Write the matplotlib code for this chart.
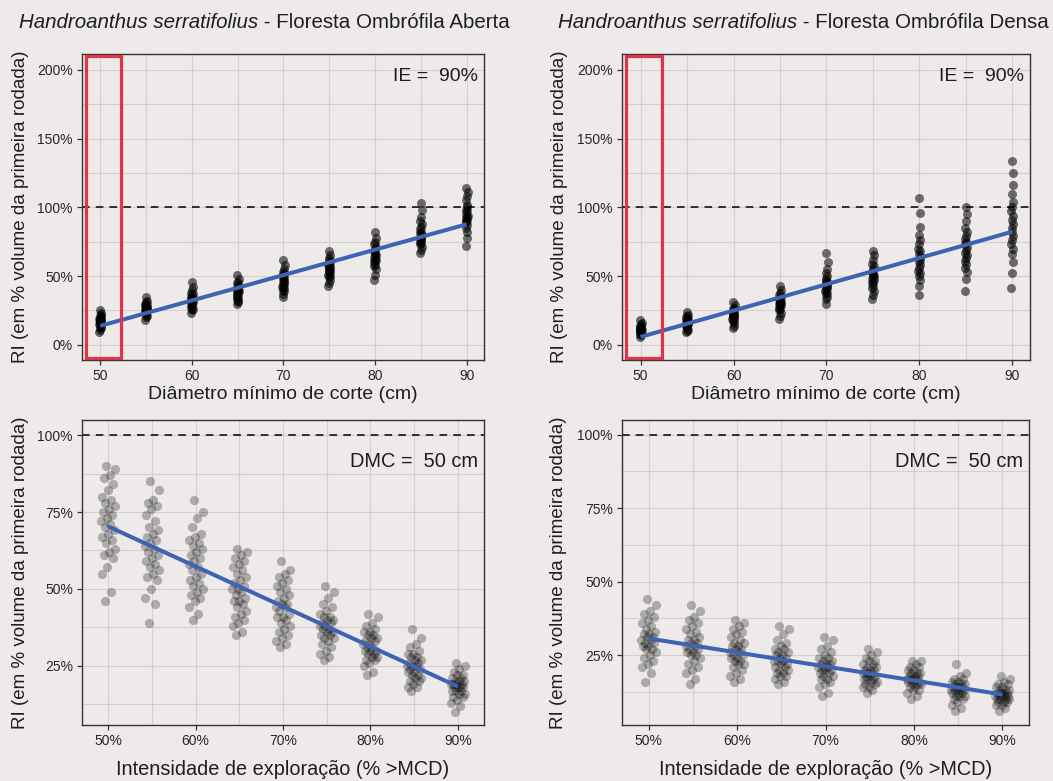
import numpy as np
import matplotlib
matplotlib.use("Agg")
import matplotlib.pyplot as plt
from matplotlib.patches import Rectangle
from matplotlib.ticker import FuncFormatter, MultipleLocator

plt.rcParams["font.family"] = ["Liberation Sans", "DejaVu Sans"]

# ---------------- data ----------------
dmc_levels = [50, 55, 60, 65, 70, 75, 80, 85, 90]      # minimum cutting diameter (cm)
ie_levels = [50, 55, 60, 65, 70, 75, 80, 85, 90]       # harvest intensity (%)

# RI (% of first-cycle volume) by DMC, IE = 90% — Floresta Ombrófila Aberta
ri_dmc_aberta = [
    [25, 23, 22, 21, 20, 19, 19, 18, 18, 17, 17, 16, 16, 15, 15, 14, 13, 12, 11, 9],
    [35, 32, 31, 30, 29, 28, 28, 27, 27, 26, 26, 25, 25, 24, 24, 23, 22, 21, 20, 18],
    [46, 42, 40, 38, 37, 36, 35, 34, 33, 33, 32, 32, 31, 30, 29, 28, 27, 26, 25, 23],
    [51, 48, 46, 45, 43, 42, 41, 40, 40, 39, 39, 38, 37, 36, 35, 34, 33, 32, 31, 30],
    [62, 58, 55, 53, 52, 51, 50, 49, 48, 47, 46, 45, 44, 43, 42, 41, 40, 39, 37, 35],
    [68, 65, 63, 62, 60, 59, 58, 57, 56, 55, 55, 54, 53, 52, 51, 50, 49, 47, 45, 43],
    [82, 78, 75, 73, 71, 70, 68, 67, 66, 65, 64, 63, 62, 61, 60, 58, 57, 55, 51, 47],
    [103, 98, 93, 90, 88, 86, 84, 82, 81, 80, 79, 78, 77, 76, 75, 74, 73, 71, 69, 67],
    [114, 111, 108, 105, 102, 100, 98, 97, 95, 94, 93, 92, 91, 90, 89, 87, 85, 82, 78, 72],
]

# RI by DMC, IE = 90% — Floresta Ombrófila Densa
ri_dmc_densa = [
    [18, 16, 15, 14, 13, 13, 12, 12, 11, 11, 11, 10, 10, 10, 9, 9, 8, 8, 7, 6],
    [24, 22, 21, 20, 19, 18, 18, 17, 17, 16, 16, 15, 15, 14, 14, 13, 12, 11, 10, 9],
    [31, 29, 27, 26, 25, 24, 23, 23, 22, 22, 21, 21, 20, 20, 19, 18, 17, 16, 14, 12],
    [43, 40, 38, 36, 35, 34, 33, 32, 31, 31, 30, 30, 29, 28, 27, 26, 25, 23, 21, 19],
    [67, 60, 55, 52, 50, 48, 47, 46, 45, 44, 43, 42, 41, 40, 39, 38, 37, 35, 33, 30],
    [68, 65, 62, 59, 57, 55, 53, 52, 51, 50, 49, 48, 47, 46, 45, 43, 41, 39, 36, 33],
    [107, 96, 86, 80, 76, 73, 70, 68, 66, 64, 62, 60, 58, 56, 54, 52, 50, 47, 43, 36],
    [100, 95, 90, 85, 82, 79, 77, 75, 73, 71, 69, 67, 65, 63, 61, 59, 56, 53, 48, 39],
    [134, 125, 116, 110, 104, 100, 97, 94, 91, 88, 85, 82, 79, 76, 73, 70, 66, 60, 52, 41],
]

# RI by IE, DMC = 50 cm — Floresta Ombrófila Aberta
ri_ie_aberta = [
    [90, 89, 87, 86, 84, 82, 80, 79, 78, 77, 76, 75, 74, 73, 72, 71, 70, 69, 68, 67, 66, 65, 63, 62, 61, 60, 57, 55, 49, 46],
    [85, 82, 79, 78, 77, 76, 74, 72, 70, 69, 68, 67, 66, 65, 64, 63, 62, 61, 60, 59, 58, 57, 56, 55, 54, 53, 50, 47, 45, 39],
    [79, 75, 73, 70, 68, 67, 66, 65, 64, 63, 62, 61, 60, 59, 58, 57, 56, 55, 54, 53, 52, 51, 50, 49, 48, 47, 46, 44, 42, 40],
    [63, 62, 61, 60, 59, 58, 57, 56, 55, 54, 53, 52, 51, 50, 50, 49, 48, 47, 46, 46, 45, 44, 43, 42, 41, 40, 39, 38, 36, 35],
    [59, 56, 55, 54, 53, 52, 51, 50, 49, 48, 47, 46, 45, 45, 44, 44, 43, 42, 41, 41, 40, 39, 38, 37, 36, 35, 34, 33, 32, 31],
    [51, 49, 47, 45, 44, 43, 42, 41, 41, 40, 40, 39, 39, 38, 38, 37, 37, 36, 36, 35, 35, 34, 34, 33, 32, 31, 30, 29, 28, 27],
    [42, 41, 39, 38, 37, 36, 36, 35, 35, 34, 34, 33, 33, 32, 32, 31, 31, 30, 30, 30, 29, 29, 28, 28, 27, 27, 26, 25, 23, 22],
    [37, 34, 32, 31, 30, 29, 29, 28, 28, 27, 27, 26, 26, 25, 25, 25, 24, 24, 23, 23, 22, 22, 21, 21, 20, 20, 19, 18, 18, 17],
    [26, 25, 24, 23, 22, 22, 21, 21, 20, 20, 20, 19, 19, 19, 19, 18, 18, 18, 18, 17, 17, 17, 16, 16, 15, 15, 14, 13, 12, 10],
]

# RI by IE, DMC = 50 cm — Floresta Ombrófila Densa
ri_ie_densa = [
    [44, 42, 40, 39, 38, 37, 36, 35, 34, 33, 32, 32, 31, 31, 30, 30, 29, 29, 28, 28, 27, 27, 26, 25, 24, 23, 22, 21, 19, 16],
    [42, 40, 38, 37, 36, 35, 34, 33, 32, 31, 30, 30, 29, 29, 28, 28, 27, 27, 26, 26, 25, 25, 24, 23, 22, 21, 20, 19, 17, 15],
    [37, 36, 35, 34, 33, 32, 31, 30, 29, 29, 28, 28, 27, 27, 26, 26, 25, 25, 24, 24, 23, 23, 22, 22, 21, 20, 19, 18, 17, 16],
    [35, 34, 32, 30, 29, 28, 27, 27, 26, 26, 25, 25, 24, 24, 23, 23, 23, 22, 22, 21, 21, 20, 20, 19, 19, 18, 18, 17, 16, 15],
    [31, 30, 28, 27, 26, 25, 24, 24, 23, 23, 22, 22, 22, 21, 21, 21, 20, 20, 20, 19, 19, 18, 18, 17, 17, 16, 15, 14, 12, 11],
    [27, 26, 25, 24, 23, 23, 22, 22, 21, 21, 20, 20, 20, 19, 19, 19, 18, 18, 18, 17, 17, 17, 16, 16, 15, 15, 14, 14, 13, 12],
    [23, 23, 22, 21, 21, 20, 20, 19, 19, 19, 18, 18, 18, 17, 17, 17, 17, 16, 16, 16, 15, 15, 15, 14, 14, 13, 13, 12, 11, 10],
    [22, 19, 18, 17, 17, 16, 16, 15, 15, 15, 14, 14, 14, 14, 13, 13, 13, 13, 12, 12, 12, 11, 11, 11, 10, 10, 9, 8, 7, 6],
    [18, 17, 16, 15, 15, 14, 14, 13, 13, 13, 12, 12, 12, 12, 11, 11, 11, 11, 11, 10, 10, 10, 10, 9, 9, 9, 8, 8, 7, 6],
]

species = "Handroanthus serratifolius"
forests = ["Floresta Ombrófila Aberta", "Floresta Ombrófila Densa"]
top_note = "IE =  90%"
bottom_note = "DMC =  50 cm"
ylabel = "RI (em % volume da primeira rodada)"
xlabel_top = "Diâmetro mínimo de corte (cm)"
xlabel_bottom = "Intensidade de exploração (% >MCD)"

# ---------------- style ----------------
BG = "#EEEAEA"
GRID = "#D5D0D0"
LINE_BLUE = "#3D63B3"
RED = "#E0344A"
TXT = "#1E1E1E"

fig = plt.figure(figsize=(10.53, 7.81), dpi=100, facecolor=BG)

W, H = 1053, 781


def add_axes(px_left, px_right, px_top, px_bottom):
    return fig.add_axes([px_left / W, 1 - px_bottom / H,
                         (px_right - px_left) / W, (px_bottom - px_top) / H])


ax_tl = add_axes(82, 484, 54, 360)
ax_tr = add_axes(622, 1030, 54, 360)
ax_bl = add_axes(82, 484, 420, 725)
ax_br = add_axes(622, 1029, 420, 725)

pct = FuncFormatter(lambda v, _: f"{v:.0f}%")


def jitter_offsets(n, half_width):
    # evenly spread horizontal offsets (golden-ratio sequence)
    k = np.arange(n)
    return ((k * 0.6180339887 + 0.37) % 1.0 * 2 - 1) * half_width


def style_axes(ax):
    ax.set_facecolor(BG)
    for sp in ax.spines.values():
        sp.set_color("#333333")
        sp.set_linewidth(1.0)
    ax.grid(True, which="both", color=GRID, linewidth=0.8, zorder=0)
    ax.set_axisbelow(True)
    ax.tick_params(which="major", direction="out", length=3.5, width=0.9,
                   color="#333333", labelsize=10, labelcolor="#262626", pad=3)
    ax.tick_params(which="minor", length=0)


def draw_panel(ax, levels, groups, half_width, alpha, size):
    xs, ys = [], []
    for lvl, vals in zip(levels, groups):
        vals = np.asarray(vals, dtype=float)
        xs.append(lvl + jitter_offsets(len(vals), half_width))
        ys.append(vals)
    xs = np.concatenate(xs)
    ys = np.concatenate(ys)
    ax.scatter(xs, ys, s=size, color="black", alpha=alpha, linewidths=0, zorder=3)
    # linear fit of RI on the grouping variable
    xg = np.concatenate([[lvl] * len(v) for lvl, v in zip(levels, groups)])
    b1, b0 = np.polyfit(xg, ys, 1)
    xl = np.array([min(levels), max(levels)])
    ax.plot(xl, b0 + b1 * xl, color=LINE_BLUE, linewidth=2.9, zorder=4,
            solid_capstyle="butt")
    ax.axhline(100, color="black", linestyle=(0, (5, 4)), linewidth=1.1, zorder=2)


# ---- top row: DMC ----
for ax, groups in [(ax_tl, ri_dmc_aberta), (ax_tr, ri_dmc_densa)]:
    style_axes(ax)
    draw_panel(ax, dmc_levels, groups, 0.12, 0.55, 42)
    ax.set_xlim(48.0, 91.9)
    ax.set_ylim(-11, 211.5)
    ax.xaxis.set_major_locator(MultipleLocator(10))
    ax.xaxis.set_minor_locator(MultipleLocator(5))
    ax.yaxis.set_major_locator(MultipleLocator(50))
    ax.yaxis.set_minor_locator(MultipleLocator(25))
    ax.yaxis.set_major_formatter(pct)
    ax.set_xlabel(xlabel_top, fontsize=14, color=TXT)
    ax.xaxis.set_label_coords(0.5, -0.085)
    ax.set_ylabel(ylabel, fontsize=13.5, color=TXT)
    ax.yaxis.set_label_coords(-0.132, 0.5)
    ax.text(0.985, 0.925, top_note, transform=ax.transAxes, ha="right",
            va="center", fontsize=14, color=TXT)
    # highlight of the 50 cm class
    ax.add_patch(Rectangle((48.45, 0.006), 3.85, 0.988,
                           transform=ax.get_xaxis_transform(), fill=False,
                           edgecolor=RED, linewidth=2.3, zorder=6, clip_on=False))

# ---- bottom row: IE ----
for ax, groups, ylim in [(ax_bl, ri_ie_aberta, (5.8, 104.9)),
                         (ax_br, ri_ie_densa, (1.2, 105.0))]:
    style_axes(ax)
    draw_panel(ax, ie_levels, groups, 0.85, 0.27, 44)
    ax.set_xlim(47.0, 93.0)
    ax.set_ylim(*ylim)
    ax.xaxis.set_major_locator(MultipleLocator(10))
    ax.xaxis.set_minor_locator(MultipleLocator(5))
    ax.xaxis.set_major_formatter(pct)
    ax.yaxis.set_major_locator(MultipleLocator(25))
    ax.yaxis.set_minor_locator(MultipleLocator(12.5))
    ax.yaxis.set_major_formatter(pct)
    ax.set_xlabel(xlabel_bottom, fontsize=14.3, color=TXT)
    ax.xaxis.set_label_coords(0.5, -0.115)
    ax.set_ylabel(ylabel, fontsize=13.5, color=TXT)
    ax.yaxis.set_label_coords(-0.132 if ax is ax_bl else -0.135, 0.5)
    ax.text(0.985, 0.865, bottom_note, transform=ax.transAxes, ha="right",
            va="center", fontsize=14.4, color=TXT)

# ---- titles: italic species name followed by forest type ----
renderer = fig.canvas.get_renderer()


def two_part_title(cx_px, cy_px, forest):
    cy = 1 - cy_px / H
    t1 = fig.text(0, cy, species, style="italic", fontsize=14.8, color=TXT,
                  ha="left", va="center")
    t2 = fig.text(0, cy, " - " + forest, fontsize=14.8, color=TXT,
                  ha="left", va="center")
    w1 = t1.get_window_extent(renderer).width / fig.bbox.width
    w2 = t2.get_window_extent(renderer).width / fig.bbox.width
    x0 = cx_px / W - (w1 + w2) / 2
    t1.set_x(x0)
    t2.set_x(x0 + w1)


two_part_title(264.5, 22, forests[0])
two_part_title(803.5, 22, forests[1])

fig.savefig("out.png", dpi=100, facecolor=BG)
